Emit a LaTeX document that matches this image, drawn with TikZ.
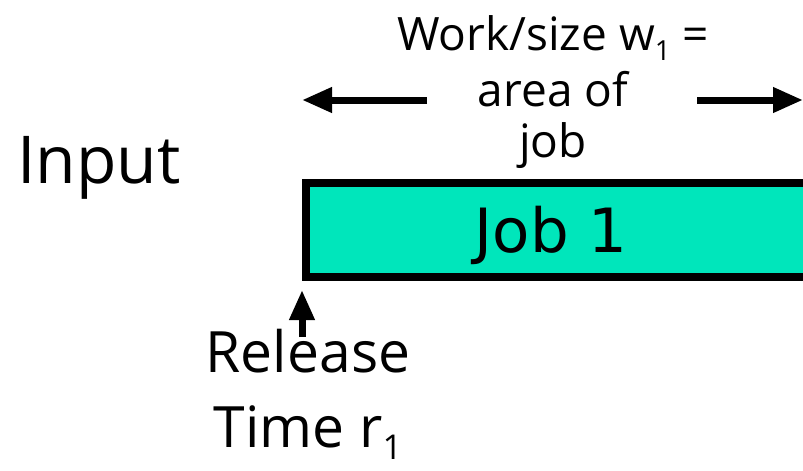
\documentclass[tikz,border=0pt]{standalone}
\usepackage{fontspec}
\setmainfont{Open Sans}
\newfontfamily\jobfont{DejaVu Sans}
\usetikzlibrary{arrows.meta}
\definecolor{jobfill}{RGB}{0,230,187}
% lowered small index digit
\newcommand{\idx}[1]{\raisebox{-0.22em}{\fontsize{0.6em}{0.6em}\selectfont #1}}
\begin{document}
\begin{tikzpicture}[x=1pt,y=-1pt,
  txt/.style={inner sep=0pt, anchor=base},
  bigarrow/.style={line width=7pt, -{Triangle[length=30pt,width=24pt]}},
  jobbox/.style={draw, line width=8pt, fill=jobfill, inner sep=0pt, anchor=north west}]
\useasboundingbox (0,0) rectangle (803,471);
\clip (0,0) rectangle (803,471);

% job bar (runs past the right edge)
\node[jobbox, minimum width=540pt, minimum height=94pt] (job) at (302,179) {};
\node[txt, font=\jobfont\fontsize{61}{66}\selectfont] (jobtext) at (551,252) {Job 1};

% left label
\node[txt, anchor=base west, font=\fontsize{66}{70}\selectfont] (input) at (17,183) {Input};

% size annotation
\node[txt, font=\fontsize{46}{50}\selectfont] (w1) at (553,50) {Work/size w\idx{1} =};
\node[txt, font=\fontsize{46}{50}\selectfont] (w2) at (553,106) {area of};
\node[txt, font=\fontsize{46}{50}\selectfont] (w3) at (553,157) {job};
\coordinate (lstart) at (427,100);
\coordinate (ltip) at (302,100);
\coordinate (rstart) at (697,100);
\coordinate (rtip) at (803,100);
\draw[bigarrow] (lstart) -- (ltip);
\draw[bigarrow] (rstart) -- (rtip);

% release time
\node[txt, font=\fontsize{57}{60}\selectfont] (rel) at (308,372) {Release};
\node[txt, font=\fontsize{57}{60}\selectfont] (time) at (308,447) {Time r\idx{1}};
\coordinate (ubase) at (302,337);
\coordinate (utip) at (302,290);
\draw[bigarrow] (ubase) -- (utip);
\end{tikzpicture}
\end{document}
